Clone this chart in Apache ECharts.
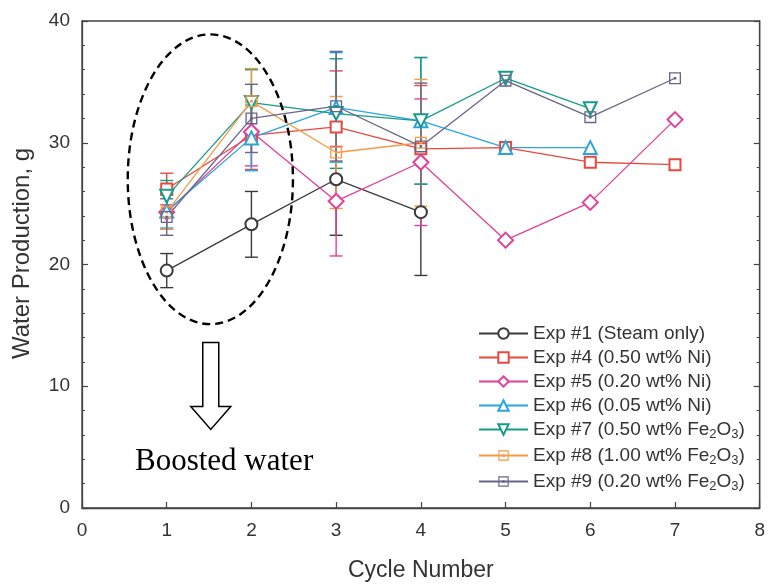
<!DOCTYPE html>
<html>
<head>
<meta charset="utf-8">
<script src="https://cdn.jsdelivr.net/npm/echarts@6/dist/echarts.min.js"></script>
<style>
  html, body { margin: 0; padding: 0; background: #fff; }
  #chart { width: 768px; height: 587px; }
</style>
</head>
<body>
<div id="chart"></div>
<script>
// Cycle numbers on the x axis
const cycles = [1, 2, 3, 4, 5, 6, 7];

// Water production (g) per cycle for each experiment
const exp1 = [19.5, 23.3, 27.0, 24.3];
const exp4 = [26.2, 30.6, 31.3, 29.5, 29.6, 28.4, 28.2];
const exp5 = [24.3, 30.9, 25.2, 28.4, 22.0, 25.1, 31.9];
const exp6 = [24.4, 30.4, 32.9, 31.8, 29.6, 29.6];
const exp7 = [25.6, 33.3, 32.4, 31.8, 35.3, 32.8];
const exp8 = [24.3, 33.4, 29.2, 30.0];
const exp9 = [23.9, 32.0, 33.0, 29.7, 35.1, 32.1, 35.3];

// Half-widths of the error bars (g), cycles 1-4
const err1 = [1.4, 2.7, 4.6, 5.2];
const err4 = [1.3, 2.8, 4.6, 5.2];
const err5 = [1.4, 2.8, 4.5, 5.2];
const err6 = [1.4, 2.7, 4.5, 5.2];
const err7 = [1.3, 2.7, 4.5, 5.2];
const err8 = [1.4, 2.7, 4.6, 5.2];
const err9 = [1.5, 2.8, 4.5, 5.2];

// Axis tick values
const xTicks = [0, 1, 2, 3, 4, 5, 6, 7, 8];
const yTicks = [0, 10, 20, 30, 40];

const names = [
  'Exp #1 (Steam only)',
  'Exp #4 (0.50 wt% Ni)',
  'Exp #5 (0.20 wt% Ni)',
  'Exp #6 (0.05 wt% Ni)',
  'Exp #7 (0.50 wt% Fe2O3)',
  'Exp #8 (1.00 wt% Fe2O3)',
  'Exp #9 (0.20 wt% Fe2O3)'
];

// Hollow square with a dot in the middle
const dotSquare = 'path://M0,0 L10,0 L10,10 L0,10 Z M1.1,1.1 L1.1,8.9 L8.9,8.9 L8.9,1.1 Z M3.9,3.9 L6.1,3.9 L6.1,6.1 L3.9,6.1 Z';

const specs = [
  { values: exp1, errs: err1, color: '#3a3a3a', symbol: 'emptyCircle', size: 12 },
  { values: exp4, errs: err4, color: '#e8493f', symbol: 'emptyRect', size: 11 },
  { values: exp5, errs: err5, color: '#e2409a', symbol: 'emptyDiamond', size: 15 },
  { values: exp6, errs: err6, color: '#2aa6dc', symbol: 'emptyTriangle', size: 13 },
  { values: exp7, errs: err7, color: '#189a88', symbol: 'emptyTriangle', size: 13, rotate: 180 },
  { values: exp8, errs: err8, color: '#f39c45', symbol: dotSquare, size: 12, filled: true },
  { values: exp9, errs: err9, color: '#66668a', symbol: dotSquare, size: 12, filled: true }
];

const series = [];
specs.forEach((s, k) => {
  const errData = s.errs.map((e, i) => [cycles[i], s.values[i], e]);
  series.push({
    type: 'custom',
    name: names[k] + ' error',
    data: errData,
    z: 1,
    silent: true,
    encode: { x: 0, y: 1 },
    renderItem: function (params, api) {
      const x = api.value(0), y = api.value(1), e = api.value(2);
      const top = api.coord([x, y + e]);
      const bot = api.coord([x, y - e]);
      const hw = 6.5;
      const st = { stroke: s.color, lineWidth: 1.4 };
      return {
        type: 'group',
        children: [
          { type: 'line', shape: { x1: top[0], y1: top[1], x2: bot[0], y2: bot[1] }, style: st },
          { type: 'line', shape: { x1: top[0] - hw, y1: top[1], x2: top[0] + hw, y2: top[1] }, style: st },
          { type: 'line', shape: { x1: bot[0] - hw, y1: bot[1], x2: bot[0] + hw, y2: bot[1] }, style: st }
        ]
      };
    }
  });
});
specs.forEach((s, k) => {
  series.push({
    type: 'line',
    name: names[k],
    data: s.values.map((v, i) => [cycles[i], v]),
    z: 3,
    symbol: s.symbol,
    symbolSize: s.size,
    symbolRotate: s.rotate || 0,
    showAllSymbol: true,
    lineStyle: { color: s.color, width: 1.3 },
    itemStyle: s.filled
      ? { color: s.color, borderWidth: 0 }
      : { color: s.color, borderColor: s.color, borderWidth: 1.2 },
    emphasis: { disabled: true }
  });
});

function legendLabel(name) {
  if (name.indexOf('Fe2O3') >= 0) {
    const head = name.split('Fe2O3')[0];
    return '{t|' + head + 'Fe}{s|2}{t|O}{s|3}{t|)}';
  }
  return '{t|' + name + '}';
}

const axisColor = '#444';
const chart = echarts.init(document.getElementById('chart'), null, { renderer: 'canvas' });

chart.setOption({
  backgroundColor: '#ffffff',
  animation: false,
  textStyle: { fontFamily: 'Liberation Sans, Arial, sans-serif' },
  grid: {
    left: 82, right: 4, top: 21, bottom: 75,
    show: true, borderColor: axisColor, borderWidth: 1.3, backgroundColor: 'transparent'
  },
  legend: {
    data: names,
    orient: 'vertical',
    left: 478,
    top: 324,
    itemWidth: 49,
    itemHeight: 13,
    itemGap: 5,
    padding: 0,
    selectedMode: false,
    formatter: legendLabel,
    textStyle: {
      color: '#333',
      rich: {
        t: { fontSize: 19, color: '#333', fontFamily: 'Liberation Sans, Arial, sans-serif' },
        s: { fontSize: 13, color: '#333', padding: [10, 0, 0, 0], fontFamily: 'Liberation Sans, Arial, sans-serif' }
      }
    }
  },
  xAxis: {
    type: 'value',
    min: xTicks[0],
    max: xTicks[xTicks.length - 1],
    interval: 1,
    name: 'Cycle Number',
    nameLocation: 'middle',
    nameGap: 51,
    nameTextStyle: { fontSize: 23, color: '#333' },
    axisLine: { show: true, onZero: false, lineStyle: { color: axisColor, width: 1.3 } },
    axisTick: { show: true, inside: true, length: 6, lineStyle: { color: axisColor, width: 1.2 } },
    axisLabel: { fontSize: 19, color: '#333', margin: 13 },
    splitLine: { show: false }
  },
  yAxis: [
    {
      type: 'value',
      min: yTicks[0],
      max: yTicks[yTicks.length - 1],
      interval: 10,
      name: 'Water Production, g',
      nameLocation: 'middle',
      nameGap: 48,
      nameTextStyle: { fontSize: 24, color: '#333', padding: [0, 0, 0, 22] },
      axisLine: { show: true, onZero: false, lineStyle: { color: axisColor, width: 1.3 } },
      axisTick: { show: true, inside: true, length: 6, lineStyle: { color: axisColor, width: 1.2 } },
      minorTick: { show: true, splitNumber: 5, length: 3, lineStyle: { color: axisColor, width: 1 } },
      axisLabel: { fontSize: 19, color: '#333', margin: 12 },
      splitLine: { show: false }
    },
    {
      type: 'value',
      position: 'right',
      min: yTicks[0],
      max: yTicks[yTicks.length - 1],
      interval: 10,
      axisLine: { show: true, onZero: false, lineStyle: { color: axisColor, width: 1.3 } },
      axisTick: { show: true, inside: true, length: 6, lineStyle: { color: axisColor, width: 1.2 } },
      minorTick: { show: true, splitNumber: 5, length: 3, lineStyle: { color: axisColor, width: 1 } },
      axisLabel: { show: false },
      splitLine: { show: false }
    }
  ],
  series: series
});

// Annotation: dashed ellipse around cycles 1-2, hollow arrow and caption
const tl = chart.convertToPixel({ gridIndex: 0 }, [0.54, 38.9]);
const br = chart.convertToPixel({ gridIndex: 0 }, [2.49, 15.1]);
const cx = (tl[0] + br[0]) / 2;
const cy = (tl[1] + br[1]) / 2;
const ax = chart.convertToPixel({ gridIndex: 0 }, [1.52, 13.6]);
const shaftBottom = ax[1] + 64;
const tip = shaftBottom + 23;

chart.setOption({
  graphic: [
    {
      type: 'ellipse',
      shape: { cx: cx, cy: cy, rx: (br[0] - tl[0]) / 2, ry: (br[1] - tl[1]) / 2 },
      style: { fill: 'none', stroke: '#000', lineWidth: 2.4, lineDash: [8, 5] },
      z: 10
    },
    {
      type: 'polygon',
      shape: {
        points: [
          [ax[0] - 8, ax[1]], [ax[0] + 8, ax[1]], [ax[0] + 8, shaftBottom],
          [ax[0] + 20, shaftBottom], [ax[0], tip], [ax[0] - 20, shaftBottom],
          [ax[0] - 8, shaftBottom]
        ]
      },
      style: { fill: '#fff', stroke: '#000', lineWidth: 1.5 },
      z: 10
    },
    {
      type: 'text',
      left: 135,
      top: 446,
      style: {
        text: 'Boosted water',
        fill: '#000',
        font: '31px "Liberation Serif", "Times New Roman", serif'
      },
      z: 10
    }
  ]
});
</script>
</body>
</html>
